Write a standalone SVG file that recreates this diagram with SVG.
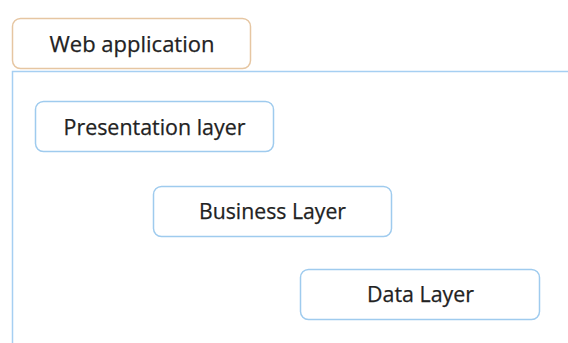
<svg xmlns="http://www.w3.org/2000/svg" width="568" height="343" viewBox="0 0 568 343">
<style>
.box{fill:#ffffff;stroke:#9fcbee;stroke-width:1.5}
.lbl{font-family:"Open Sans","Noto Sans",sans-serif;font-size:22px;fill:#222222;text-anchor:middle;stroke:#222222;stroke-width:0.25}
</style>
<rect width="568" height="343" fill="#ffffff"/>
<g id="container">
<path d="M12.5,343 V71.5 H568" fill="none" stroke="#a6cff2" stroke-width="1.5"/>
</g>
<g id="web-application">
<rect x="12.5" y="18.5" width="238" height="50" rx="8" fill="#ffffff" stroke="#e6c6a2" stroke-width="1.5"/>
<text class="lbl" x="132" y="52" textLength="165" lengthAdjust="spacingAndGlyphs">Web application</text>
</g>
<g id="presentation-layer">
<rect class="box" x="35.5" y="101.5" width="238" height="50" rx="8"/>
<text class="lbl" x="154.5" y="135" textLength="182" lengthAdjust="spacingAndGlyphs">Presentation layer</text>
</g>
<g id="business-layer">
<rect class="box" x="153.5" y="186.5" width="238" height="50" rx="8"/>
<text class="lbl" x="272.5" y="219" textLength="147" lengthAdjust="spacingAndGlyphs">Business Layer</text>
</g>
<g id="data-layer">
<rect class="box" x="300.5" y="269.5" width="239" height="50" rx="8"/>
<text class="lbl" x="420.5" y="302" textLength="107" lengthAdjust="spacingAndGlyphs">Data Layer</text>
</g>
<g id="connectors"></g>
</svg>
